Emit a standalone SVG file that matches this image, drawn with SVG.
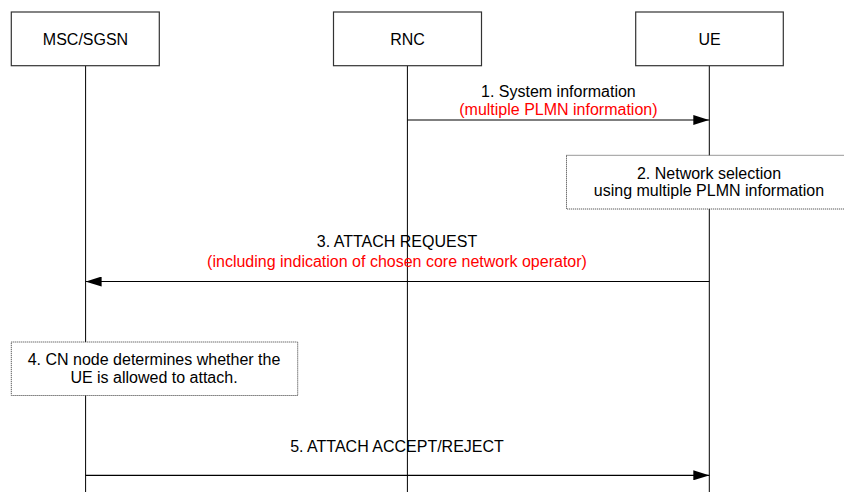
<svg xmlns="http://www.w3.org/2000/svg" width="844" height="492" viewBox="0 0 844 492">
<style>
text{font-family:"Liberation Sans",Arial,sans-serif;font-size:16px;fill:#000;text-anchor:middle}
.red{fill:#ff0000}
.ent{fill:#fff;stroke:#333;stroke-width:1.2}
.note{fill:#fff;stroke:#333;stroke-width:1;stroke-dasharray:1 1}
.life{stroke:#000;stroke-width:1}
.msg{stroke:#000;stroke-width:1.2;fill:none}
</style>
<defs>
<marker id="ah" viewBox="0 0 16 10" refX="16" refY="5" markerWidth="16" markerHeight="10" markerUnits="userSpaceOnUse" orient="auto">
<path d="M0,0 L16,5 L0,10 Z" fill="#000"/>
</marker>
</defs>
<g id="lifelines">
<line class="life" x1="85.6" y1="66" x2="85.6" y2="492"/>
<line class="life" x1="407.4" y1="66" x2="407.4" y2="492"/>
<line class="life" x1="709.3" y1="66" x2="709.3" y2="492"/>
</g>
<g id="msc">
<rect class="ent" x="11.3" y="12" width="148" height="53.7"/>
<text x="85.5" y="45">MSC/SGSN</text>
</g>
<g id="rnc">
<rect class="ent" x="333.5" y="12" width="148" height="53.7"/>
<text x="407.5" y="45">RNC</text>
</g>
<g id="ue">
<rect class="ent" x="635.7" y="12" width="147.6" height="53.7"/>
<text x="709.5" y="45">UE</text>
</g>
<g id="step2">
<rect class="note" x="566.5" y="155.3" width="290" height="53.7"/>
<text x="709" y="178.7">2. Network selection</text>
<text x="709" y="196">using multiple PLMN information</text>
</g>
<g id="step4">
<rect class="note" x="11.3" y="342" width="286.4" height="53.5"/>
<text x="154" y="365">4. CN node determines whether the</text>
<text x="154" y="382.7">UE is allowed to attach.</text>
</g>
<g id="connectors">
<line class="msg" x1="407.4" y1="120" x2="709.3" y2="120" marker-end="url(#ah)"/>
<text x="558.4" y="96.7">1. System information</text>
<text class="red" x="558.4" y="115">(multiple PLMN information)</text>
<line class="msg" x1="709.3" y1="281.5" x2="85.6" y2="281.5" marker-end="url(#ah)"/>
<text x="397" y="247">3. ATTACH REQUEST</text>
<text class="red" x="397" y="267">(including indication of chosen core network operator)</text>
<line class="msg" x1="85.6" y1="475.3" x2="709.3" y2="475.3" marker-end="url(#ah)"/>
<text x="397" y="452.4">5. ATTACH ACCEPT/REJECT</text>
</g>
</svg>
